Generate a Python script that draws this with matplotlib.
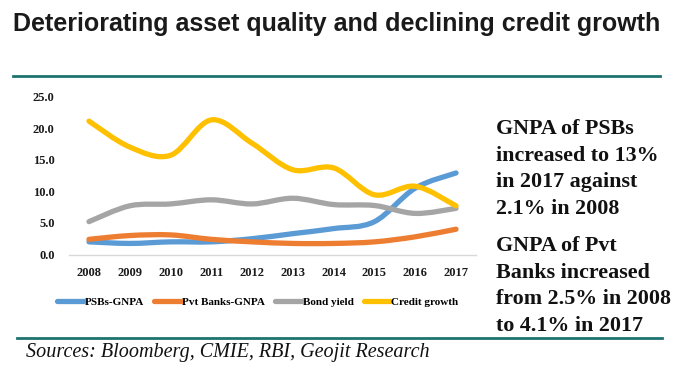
import numpy as np
import matplotlib.pyplot as plt
from matplotlib.path import Path
from matplotlib.patches import PathPatch
from matplotlib.lines import Line2D

years = [2008, 2009, 2010, 2011, 2012, 2013, 2014, 2015, 2016, 2017]
psb_gnpa = [2.0, 1.75, 2.0, 2.0, 2.5, 3.3, 4.1, 5.2, 10.5, 12.9]
pvt_gnpa = [2.4, 3.0, 3.1, 2.4, 2.0, 1.75, 1.75, 2.0, 2.8, 4.0]
bond_yield = [5.2, 7.7, 8.0, 8.65, 8.0, 8.9, 7.9, 7.75, 6.5, 7.3]
credit_growth = [21.1, 17.0, 15.7, 21.3, 17.6, 13.4, 13.7, 9.45, 10.8, 7.7]

series_names = ["PSBs-GNPA", "Pvt Banks-GNPA", "Bond yield", "Credit growth"]
colors = ["#5B9BD5", "#ED7D31", "#A5A5A5", "#FFC000"]

W, H = 674, 376
fig = plt.figure(figsize=(W / 100, H / 100), dpi=100)


def px(x0, y0, x1, y1):
    # pixel box (top-left origin) -> figure fraction rect
    return [x0 / W, 1 - y1 / H, (x1 - x0) / W, (y1 - y0) / H]


def smooth_path(xs, ys, t=1 / 6):
    # Excel-like smoothed line: cubic bezier segments through the points
    xs = np.asarray(xs, float)
    ys = np.asarray(ys, float)
    n = len(xs)
    verts = [(xs[0], ys[0])]
    codes = [Path.MOVETO]
    for i in range(n - 1):
        p0 = i - 1 if i > 0 else i
        p3 = i + 2 if i + 2 < n else i + 1
        c1 = (xs[i] + (xs[i + 1] - xs[p0]) * t, ys[i] + (ys[i + 1] - ys[p0]) * t)
        c2 = (xs[i + 1] - (xs[p3] - xs[i]) * t, ys[i + 1] - (ys[p3] - ys[i]) * t)
        verts += [c1, c2, (xs[i + 1], ys[i + 1])]
        codes += [Path.CURVE4] * 3
    return Path(verts, codes)


ax = fig.add_axes(px(68.6, 96.5, 476.4, 254.5))
for vals, c in zip([psb_gnpa, pvt_gnpa, bond_yield, credit_growth], colors):
    patch = PathPatch(smooth_path(years, vals), facecolor="none", edgecolor=c,
                      lw=3.8, capstyle="round", joinstyle="round")
    ax.add_patch(patch)

ax.set_xlim(2007.5, 2017.5)
ax.set_ylim(0, 25)
ax.set_xticks(years)
ax.set_yticks(np.arange(0, 25.1, 5))
ax.set_yticklabels([f"{v:.1f}" for v in np.arange(0, 25.1, 5)])
for s in ["top", "right", "left"]:
    ax.spines[s].set_visible(False)
ax.spines["bottom"].set_color("#D9D9D9")
ax.spines["bottom"].set_linewidth(1.0)
ax.tick_params(length=0, labelsize=9, pad=9)
ax.tick_params(axis="y", pad=10)
for lab in ax.get_xticklabels() + ax.get_yticklabels():
    lab.set_fontfamily("Liberation Serif")
    lab.set_fontweight("bold")
    lab.set_color("#1a1a1a")

handles = [Line2D([], [], color=c, lw=3.8, solid_capstyle="round") for c in colors]
leg = fig.legend(handles, series_names, loc="center", bbox_to_anchor=(258 / W, 1 - 302 / H),
                 ncol=4, frameon=False, handlelength=2.4, handletextpad=0.1,
                 columnspacing=0.9, prop={"family": "Liberation Serif", "weight": "bold", "size": 8})

fig.text(337 / W, 1 - 24 / H, "Deteriorating asset quality and declining credit growth",
         ha="center", va="center", fontsize=18, fontweight="bold",
         family="Liberation Sans", color="#1a1a1a")

teal = "#1E7370"
fig.add_artist(Line2D([13 / W, 660 / W], [1 - 76 / H] * 2, color=teal, lw=2))
fig.add_artist(Line2D([17 / W, 662 / W], [1 - 338 / H] * 2, color=teal, lw=2))

block1 = "GNPA of PSBs\nincreased to 13%\nin 2017 against\n2.1% in 2008"
block2 = "GNPA of Pvt\nBanks increased\nfrom 2.5% in 2008\nto 4.1% in 2017"
fig.text(496 / W, 1 - 119 / H, block1, ha="left", va="top", fontsize=15.8,
         fontweight="bold", family="Liberation Serif", linespacing=1.44, color="#111111")
fig.text(496 / W, 1 - 236 / H, block2, ha="left", va="top", fontsize=15.8,
         fontweight="bold", family="Liberation Serif", linespacing=1.44, color="#111111")

fig.text(26 / W, 1 - 352 / H, "Sources: Bloomberg, CMIE, RBI, Geojit Research",
         ha="left", va="center", fontsize=14.5, style="italic",
         family="Liberation Serif", color="#111111")

fig.savefig("out.png", dpi=100)
